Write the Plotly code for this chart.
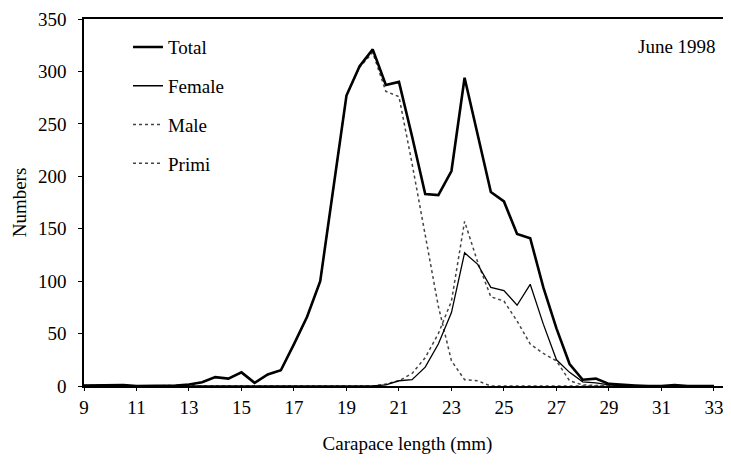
import plotly.graph_objects as go

length_mm = [9 + 0.5 * i for i in range(49)]

total = [0.5, 0.5, 0.5, 1, 0, 0, 0.5, 0.5, 1.5, 3.5, 8.5, 7, 13, 3, 11, 15, 40, 66, 100, 188,
         277, 305, 321, 287, 290, 238, 183, 182, 205, 294, 240, 185, 176, 145, 141, 94, 55, 21,
         6, 7, 2, 1, 0.5, 0, 0, 1, 0, 0, 0]
female = [0] * 23 + [1, 5, 6, 18, 40, 70, 127, 116, 94, 91, 77, 97, 59, 25, 13, 4, 3, 1, 0.5,
                     0, 0, 0, 0, 0, 0, 0]
male = [0.5, 0.5, 0.5, 1, 0, 0, 0.5, 0.5, 1.5, 3.5, 8.5, 7, 13, 3, 11, 15, 40, 66, 100, 188,
        277, 304, 318, 281, 276, 212, 143, 76, 24, 6, 5, 0, 0, 0, 0, 0, 0, 0,
        0, 0, 0, 0, 0, 0, 0, 0, 0, 0, 0]
primi = [0] * 23 + [2, 5, 12, 27, 50, 81, 157, 118, 85, 81, 62, 40, 31, 24, 5, 1, 0.5, 0, 0,
                    0, 0, 0, 0, 0, 0, 0]

x_ticks = [9, 11, 13, 15, 17, 19, 21, 23, 25, 27, 29, 31, 33]
y_ticks = [0, 50, 100, 150, 200, 250, 300, 350]

FONT = "Liberation Serif, Times New Roman, Times, serif"
FS = 19

fig = go.Figure()
fig.add_trace(go.Scatter(x=length_mm, y=primi, name="Primi", mode="lines", legendrank=4,
                         line=dict(color="#444444", width=1.5, dash="dot"), legendgroup="d"))
fig.add_trace(go.Scatter(x=length_mm, y=male, name="Male", mode="lines", legendrank=3,
                         line=dict(color="#444444", width=1.5, dash="dot"), legendgroup="c"))
fig.add_trace(go.Scatter(x=length_mm, y=female, name="Female", mode="lines", legendrank=2,
                         line=dict(color="black", width=1.3), legendgroup="b"))
fig.add_trace(go.Scatter(x=length_mm, y=total, name="Total", mode="lines", legendrank=1,
                         line=dict(color="black", width=2.6), legendgroup="a"))

# page body has an 8px margin, so the figure is sized/offset to compensate
fig.update_layout(
    width=723, height=459,
    margin=dict(l=76, r=0, t=11, b=81),
    paper_bgcolor="white", plot_bgcolor="white",
    font=dict(family=FONT, size=FS, color="black"),
    legend=dict(x=0.068, y=0.975, xanchor="left", yanchor="top",
                traceorder="grouped", tracegroupgap=11,
                bgcolor="rgba(0,0,0,0)", font=dict(family=FONT, size=FS)),
    annotations=[dict(text="June 1998", x=0.98, y=0.926, xref="paper", yref="paper",
                      xanchor="right", yanchor="middle", showarrow=False,
                      font=dict(family=FONT, size=FS))],
)
fig.update_xaxes(range=[9, 33.65], tickvals=x_ticks, ticktext=[str(t) for t in x_ticks],
                 automargin=False, ticklabeloverflow="allow",
                 showline=True, linecolor="black", linewidth=2, mirror=True,
                 ticks="outside", ticklen=3, tickcolor="black", showgrid=False, zeroline=False,
                 title=dict(text="Carapace length (mm)", font=dict(family=FONT, size=FS), standoff=20),
                 tickfont=dict(family=FONT, size=FS))
fig.update_yaxes(range=[0, 350], tickvals=y_ticks, automargin=False,
                 ticklabeloverflow="allow",
                 showline=True, linecolor="black", linewidth=1.5,
                 ticks="outside", ticklen=4, tickcolor="black", showgrid=False, zeroline=False,
                 ticklabelstandoff=8,
                 title=dict(text="Numbers", font=dict(family=FONT, size=FS), standoff=6),
                 tickfont=dict(family=FONT, size=FS))

fig.write_html("out.html")
